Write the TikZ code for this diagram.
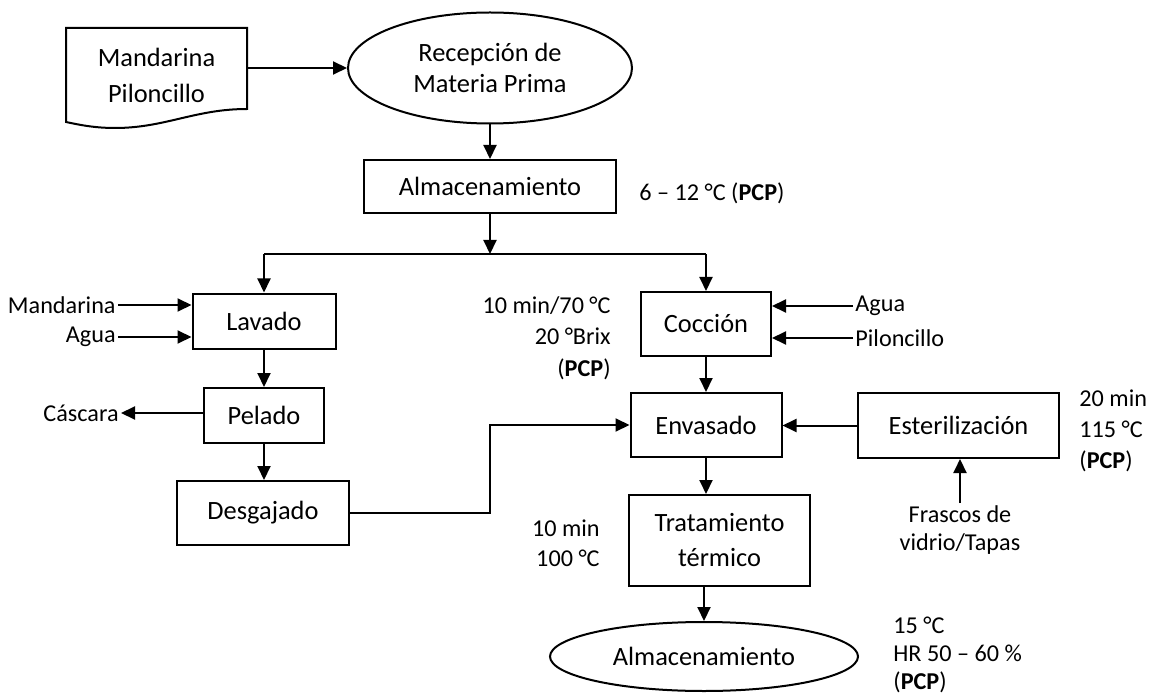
\documentclass[tikz,border=0pt]{standalone}
\usepackage{fontspec}
\setmainfont{Carlito}
\usetikzlibrary{arrows.meta,shapes.geometric}
\begin{document}
\begin{tikzpicture}[x=0.5pt,y=-0.5pt,
 every node/.style={font=\fontsize{13.2}{15.5}\selectfont},
 proc/.style={draw,line width=1pt,inner sep=0pt,align=center},
 oval/.style={draw,ellipse,line width=1pt,inner sep=0pt,align=center},
 lbl/.style={inner sep=1pt,font=\fontsize{12.1}{15.5}\selectfont},
 arr/.style={line width=1pt,-{Triangle[length=7pt,width=6.5pt]}},
 thinline/.style={line width=0.6pt}]
\useasboundingbox (0,0) rectangle (1156,695);
% document shape
\draw[line width=1pt] (66,28) -- (247,28) -- (247,109) .. controls (195,109) and (165,128) .. (115,128) .. controls (95,128) and (80,125) .. (66,122) -- cycle;
\node[minimum width=90.5pt, minimum height=47pt, inner sep=0pt, align=center, font=\fontsize{13.2}{18}\selectfont] (doc) at (156.5,75) {Mandarina\\Piloncillo};
\node[oval, minimum width=142pt, minimum height=55.5pt] (rec) at (490,68) {Recepción de\\Materia Prima};
\node[proc, minimum width=126pt, minimum height=26.5pt] (alm1) at (490,186.5) {Almacenamiento};
\node[lbl, anchor=west] (t1) at (637,193) {6 – 12 °C (\textbf{PCP})};
\coordinate (bm) at (490,254);
\coordinate (bl) at (264,254);
\coordinate (br) at (706,254);
\node[proc, minimum width=71.5pt, minimum height=27.5pt] (lav) at (264,321) {Lavado};
\node[lbl, anchor=east] (mand) at (118,305) {Mandarina};
\node[lbl, anchor=east] (agua1) at (118,337) {Agua};
\node[proc, minimum width=60pt, minimum height=27.5pt] (pel) at (264,415.5) {Pelado};
\node[lbl, anchor=east] (casc) at (121,413) {Cáscara};
\node[proc, minimum width=86pt, minimum height=32pt] (des) at (263,513) {Desgajado};
\node[proc, minimum width=65pt, minimum height=32pt] (coc) at (706,324) {Cocción};
\node[lbl, anchor=west] (agua2) at (853,306) {Agua};
\node[lbl, anchor=west] (pil) at (853,338) {Piloncillo};
\node[lbl, anchor=east, align=right, font=\fontsize{12.1}{15.75}\selectfont] (t2) at (613,338) {10 min/70 °C\\20 °Brix\\(\textbf{PCP})};
\node[proc, minimum width=75.5pt, minimum height=32pt] (env) at (706,425) {Envasado};
\node[proc, minimum width=100.5pt, minimum height=32.5pt] (est) at (958.5,425.5) {Esterilización};
\node[lbl, align=center, anchor=north, font=\fontsize{12.1}{14}\selectfont] (fra) at (960,503) {Frascos de\\vidrio/Tapas};
\node[lbl, anchor=west, align=left] (t3) at (1077,431) {20 min\\115 °C\\(\textbf{PCP})};
\node[proc, minimum width=90.5pt, minimum height=45.5pt, font=\fontsize{13.2}{17.5}\selectfont] (trat) at (719.5,540.5) {Tratamiento\\térmico};
\node[lbl, anchor=east, align=right, font=\fontsize{12.1}{15}\selectfont] (t4) at (602,543) {10 min\\100 °C};
\node[oval, minimum width=154pt, minimum height=34.5pt] (alm2) at (704,656.5) {Almacenamiento};
\node[lbl, anchor=west, align=left, font=\fontsize{12.1}{14}\selectfont] (t5) at (891,655) {15 °C\\HR 50 – 60 \%\\(\textbf{PCP})};
\coordinate (jog) at (490,425);
% connectors
\draw[arr] (doc.east |- rec.west) -- (rec.west);
\draw[arr] (rec.south) -- (alm1.north);
\draw[arr] (alm1.south) -- (bm);
\draw[thinline] (bl) -- (br);
\draw[arr] (bl) -- (lav.north);
\draw[arr] (br) -- (coc.north);
\draw[arr] (mand.east) -- (mand.east -| lav.west);
\draw[arr] (agua1.east) -- (agua1.east -| lav.west);
\draw[arr] (lav.south) -- (pel.north);
\draw[arr] (pel.west |- casc.east) -- (casc.east);
\draw[arr] (pel.south) -- (pel.south |- des.north);
\draw[arr] (des.east) -| (jog) -- (env.west);
\draw[arr] (coc.south) -- (env.north);
\draw[arr] (agua2.west) -- (agua2.west -| coc.east);
\draw[arr] (pil.west) -- (pil.west -| coc.east);
\draw[arr] (est.west) -- (est.west -| env.east);
\draw[arr] (fra.north) -- (fra.north |- est.south);
\draw[arr] (env.south) -- (env.south |- trat.north);
\draw[arr] (alm2.north |- trat.south) -- (alm2.north);
\end{tikzpicture}
\end{document}
